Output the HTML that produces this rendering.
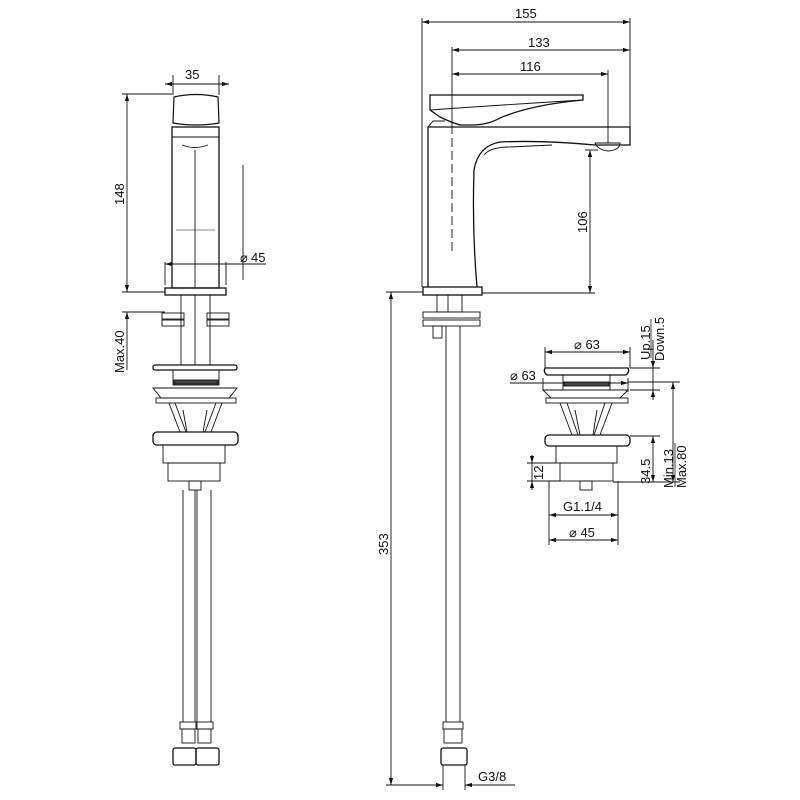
<!DOCTYPE html>
<html><head><meta charset="utf-8"><style>
html,body{margin:0;padding:0;background:#fff}
svg{display:block}
text{font-family:"Liberation Sans",sans-serif;font-size:13px;fill:#111}
</style></head><body>
<svg width="800" height="800" viewBox="0 0 800 800" xmlns="http://www.w3.org/2000/svg">
<defs>
<marker id="a" viewBox="0 0 10 6" refX="10" refY="3" markerWidth="8" markerHeight="5" orient="auto-start-reverse"><path d="M0,0L10,3L0,6z" fill="#111"/></marker>
</defs>
<g fill="none" stroke="#111" stroke-width="0.9">
<!-- LEFT VIEW -->
<line x1="165" y1="84" x2="229" y2="84" marker-start="url(#a)" marker-end="url(#a)"/>
<line x1="173" y1="75" x2="173" y2="95"/><line x1="219" y1="75" x2="219" y2="95"/>
<line x1="122" y1="94" x2="172" y2="94"/>
<line x1="127" y1="94" x2="127" y2="292" marker-start="url(#a)" marker-end="url(#a)"/>
<line x1="122" y1="292" x2="165" y2="292"/>
<line x1="122" y1="312" x2="165" y2="312"/>
<line x1="127" y1="312" x2="127" y2="370" marker-start="url(#a)"/>
<line x1="243" y1="165" x2="243" y2="280"/>
<line x1="165" y1="264" x2="266" y2="264" marker-start="url(#a)"/>
<line x1="165" y1="262" x2="165" y2="285"/><line x1="226" y1="262" x2="226" y2="285"/>
<path d="M174,97 Q196,92 218,97 L219,123 Q196,127 173,123 Z" stroke-width="1.2"/>
<rect x="172" y="127" width="47" height="161" stroke-width="1.3"/>
<line x1="172" y1="137" x2="219" y2="137"/>
<path d="M182,145 Q195,150 208,145"/>
<line x1="195" y1="150" x2="195" y2="288"/>
<line x1="176" y1="230" x2="215" y2="230" stroke-width="0.5"/>
<rect x="165" y="288" width="61" height="7" stroke-width="1.3"/>
<rect x="181" y="295" width="29" height="70"/>
<line x1="195" y1="295" x2="195" y2="365"/>
<rect x="162" y="313" width="22" height="6"/><rect x="162" y="320" width="22" height="6"/>
<rect x="207" y="313" width="22" height="6"/><rect x="207" y="320" width="22" height="6"/>
<rect x="153" y="365" width="84" height="5" rx="2" stroke-width="1.3"/>
<rect x="173" y="370" width="46" height="15"/>
<rect x="174" y="380" width="44" height="4" fill="#444"/>
<path d="M153,388 L237,388 L229,398 L161,398 Z"/>
<rect x="156" y="398" width="80" height="5"/>
<path d="M169,403 L180,432 M222,403 L211,432 M175,403 L186,432 M216,403 L205,432 M183,410 L187,432 M207,410 L203,432"/>
<rect x="153" y="432" width="85" height="13" rx="4" stroke-width="1.3"/>
<rect x="163" y="445" width="62" height="18"/>
<rect x="168" y="463" width="52" height="18"/>
<rect x="189" y="481" width="12" height="9"/>
<line x1="183" y1="490" x2="183" y2="722"/><line x1="195" y1="490" x2="195" y2="722"/>
<line x1="197" y1="490" x2="197" y2="722"/><line x1="211" y1="490" x2="211" y2="722"/>
<rect x="180" y="722" width="17" height="7"/><rect x="196" y="722" width="17" height="7"/>
<rect x="182" y="729" width="13" height="14"/><rect x="198" y="729" width="13" height="14"/>
<rect x="173" y="748" width="23" height="17" rx="2" stroke-width="1.3"/><rect x="196" y="748" width="23" height="17" rx="2" stroke-width="1.3"/>

<!-- MIDDLE VIEW -->
<line x1="422" y1="18" x2="422" y2="287"/>
<line x1="422" y1="22" x2="630" y2="22" marker-start="url(#a)" marker-end="url(#a)"/>
<line x1="630" y1="18" x2="630" y2="127"/>
<line x1="452" y1="47" x2="452" y2="125"/>
<line x1="452" y1="125" x2="452" y2="255" stroke-dasharray="9,4"/>
<line x1="452" y1="50" x2="630" y2="50" marker-start="url(#a)" marker-end="url(#a)"/>
<line x1="452" y1="74" x2="608" y2="74" marker-start="url(#a)" marker-end="url(#a)"/>
<line x1="608" y1="70" x2="608" y2="143"/>
<line x1="590" y1="150" x2="590" y2="293" marker-start="url(#a)" marker-end="url(#a)"/>
<line x1="598" y1="150" x2="585" y2="150"/>
<line x1="482" y1="293" x2="595" y2="293"/>
<line x1="386" y1="292" x2="423" y2="292"/>
<line x1="391" y1="292" x2="391" y2="785" marker-start="url(#a)" marker-end="url(#a)"/>
<line x1="386" y1="785" x2="440" y2="785"/>
<path d="M430,95 L583,95 L583,100 Q530,105 500,118 Q490,124 475,125 L460,125 Q450,122 440,117 L430,110 Z" stroke-width="1.3"/>
<path d="M430,110 Q500,105 583,100"/>
<path d="M428,127 L433,121 L445,121" />
<path d="M428,287 L428,127 L630,127 L630,145 L595,145 Q540,140 500,142 Q478,146 474,170 Q472,230 477,287" stroke-width="1.3"/>
<path d="M484,155 Q490,147 510,147 L552,145"/>
<path d="M595,143 L620,143 Q620,150 608,151 Q598,150 595,143 Z"/>
<rect x="423" y="287" width="59" height="8" stroke-width="1.3"/>
<rect x="437" y="295" width="25" height="17"/>
<rect x="423" y="312" width="57" height="6"/><rect x="423" y="320" width="57" height="6"/>
<rect x="433" y="326" width="9" height="12"/>
<line x1="446" y1="326" x2="446" y2="722"/><line x1="460" y1="326" x2="460" y2="722"/>
<line x1="448" y1="295" x2="448" y2="312"/>
<rect x="443" y="722" width="20" height="7"/><rect x="444" y="729" width="18" height="14"/>
<rect x="441" y="748" width="26" height="17" rx="2" stroke-width="1.3"/>
<line x1="443" y1="765" x2="443" y2="790"/><line x1="465" y1="765" x2="465" y2="790"/>
<line x1="432" y1="785" x2="443" y2="785" marker-end="url(#a)"/>
<line x1="476" y1="785" x2="465" y2="785" marker-end="url(#a)"/>
<line x1="476" y1="785" x2="515" y2="785"/>

<!-- RIGHT DRAIN -->
<line x1="545" y1="352" x2="630" y2="352" marker-start="url(#a)" marker-end="url(#a)"/>
<line x1="545" y1="347" x2="545" y2="368"/><line x1="630" y1="347" x2="630" y2="368"/>
<line x1="510" y1="383" x2="628" y2="383" marker-end="url(#a)"/>
<line x1="543" y1="378" x2="543" y2="390"/><line x1="628" y1="378" x2="628" y2="392"/>
<path d="M545,368 L628,368 Q630,372 626,375 L547,375 Q543,372 545,368Z" stroke-width="1.3"/>
<rect x="563" y="375" width="47" height="15"/>
<rect x="564" y="382" width="45" height="4" fill="#444"/>
<path d="M543,390 L628,390 L620,398 L551,398 Z"/>
<rect x="546" y="398" width="82" height="5"/>
<path d="M560,403 L572,435 M612,403 L600,435 M567,403 L578,435 M605,403 L594,435 M575,410 L580,435 M597,410 L593,435"/>
<rect x="545" y="435" width="85" height="11" rx="4" stroke-width="1.3"/>
<rect x="556" y="446" width="61" height="17"/>
<rect x="560" y="463" width="53" height="18"/>
<rect x="580" y="481" width="12" height="9"/>
<line x1="630" y1="368" x2="660" y2="368"/>
<line x1="630" y1="390" x2="660" y2="390"/>
<line x1="653" y1="340" x2="653" y2="400" />
<line x1="653" y1="358" x2="653" y2="368" marker-end="url(#a)"/>
<line x1="653" y1="400" x2="653" y2="390" marker-end="url(#a)"/>
<line x1="628" y1="382" x2="680" y2="382"/>
<line x1="673" y1="382" x2="673" y2="482" marker-start="url(#a)" marker-end="url(#a)"/>
<line x1="630" y1="436" x2="660" y2="436"/>
<line x1="653" y1="436" x2="653" y2="482" marker-start="url(#a)" marker-end="url(#a)"/>
<line x1="613" y1="482" x2="680" y2="482"/>
<line x1="527" y1="463" x2="556" y2="463"/>
<line x1="527" y1="481" x2="560" y2="481"/>
<line x1="532" y1="455" x2="532" y2="463" marker-end="url(#a)"/>
<line x1="532" y1="490" x2="532" y2="481" marker-end="url(#a)"/>
<line x1="532" y1="463" x2="532" y2="481"/>
<line x1="549" y1="481" x2="549" y2="545"/><line x1="618" y1="481" x2="618" y2="545"/>
<line x1="549" y1="515" x2="618" y2="515" marker-start="url(#a)" marker-end="url(#a)"/>
<line x1="549" y1="540" x2="618" y2="540" marker-start="url(#a)" marker-end="url(#a)"/>
</g>
<g>
<text x="185" y="79">35</text>
<text transform="translate(124,205) rotate(-90)">148</text>
<text transform="translate(124,373) rotate(-90)">Max.40</text>
<text x="240" y="262">⌀</text><text x="251" y="262">45</text>
<text x="515" y="18">155</text>
<text x="528" y="47">133</text>
<text x="520" y="71">116</text>
<text transform="translate(587,233) rotate(-90)">106</text>
<text transform="translate(388,555) rotate(-90)">353</text>
<text x="478" y="781">G3/8</text>
<text x="574" y="349">⌀ 63</text>
<text x="510" y="380">⌀ 63</text>
<text transform="translate(650,360) rotate(-90)">Up.15</text>
<text transform="translate(664,361) rotate(-90)">Down.5</text>
<text transform="translate(650,484) rotate(-90)">34.5</text>
<text transform="translate(673,488) rotate(-90)">Min.13</text>
<text transform="translate(686,488) rotate(-90)">Max.80</text>
<text transform="translate(543,480) rotate(-90)">12</text>
<text x="563" y="511">G1.1/4</text>
<text x="569" y="537">⌀ 45</text>
</g>
<g stroke="#111" stroke-width="0.8">
<line x1="651" y1="319" x2="651" y2="358"/><line x1="675" y1="443" x2="675" y2="487"/>
</g>
</svg>
</body></html>
